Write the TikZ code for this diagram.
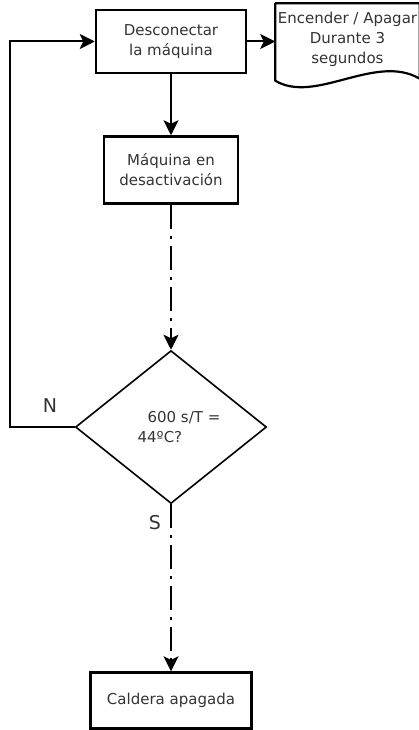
\documentclass[tikz,border=0pt]{standalone}
\usepackage{fontspec}
\setmainfont{DejaVu Sans}
\usetikzlibrary{positioning,arrows.meta,shapes.geometric}
\tikzset{
  fc arrow/.style={-{Stealth[length=15pt,width=15pt,inset=3.5pt]},line width=2pt,black},
  fc dashdot/.style={fc arrow,dash pattern=on 24pt off 7pt on 3pt off 7pt},
  fc box/.style={draw=black,line width=2.5pt,align=center,text=black!80,inner sep=2pt},
  fc decision/.style={draw=black,line width=1.6pt,diamond,minimum width=191pt,
    minimum height=153pt,inner sep=0pt,align=left,text=black!80},
  fc doc/.style={align=center,text=black!80,minimum width=144pt,
    minimum height=72pt,inner sep=0pt},
  fc branch/.style={font=\fontsize{19}{22}\selectfont,text=black!80}
}

\begin{document}
\begin{tikzpicture}[x=1pt,y=-1pt,font=\fontsize{15}{20}\selectfont]
  \useasboundingbox (0,0) rectangle (418,730);

  \node[fc box,minimum width=150pt,minimum height=63pt] (desconectar) at (171,41.5)
    {Desconectar\\la máquina};
  \node[fc box,minimum width=134pt,minimum height=67pt,below=61pt of desconectar]
    (desactivacion) {Máquina en\\desactivación};
  \node[fc decision,below=145pt of desactivacion] (decision)
    {\hspace*{26pt}600 s/T =\\\hspace*{16pt}44ºC?};
  \node[fc box,minimum width=161pt,minimum height=56pt,below=167pt of decision]
    (caldera) {Caldera apagada};
  \node[fc doc,right=28pt of desconectar,yshift=2pt] (encender)
    {Encender / Apagar\\Durante 3\\segundos};

  % document outline with wavy bottom
  \draw[line width=2.2pt,line join=round] ([yshift=-5pt]encender.south west)
    .. controls +(40,24) and +(-44,-26) .. ([yshift=-3pt]encender.south east)
    -- (encender.north east) -- (encender.north west) -- cycle;

  \draw[fc arrow] (desconectar) -- (desactivacion);
  \draw[fc arrow] (desconectar.east) -- (desconectar.east -| encender.west);
  \draw[fc dashdot] (desactivacion) -- (decision);
  \draw[fc dashdot] (decision) -- (caldera);

  % "no" branch loops back to the top
  \draw[fc arrow] (decision.west) -- ++(-65,0) |- (desconectar.west);
  \node[fc branch] (no) at (50,406) {N};
  \node[fc branch] (si) at (155,523) {S};
\end{tikzpicture}
\end{document}
